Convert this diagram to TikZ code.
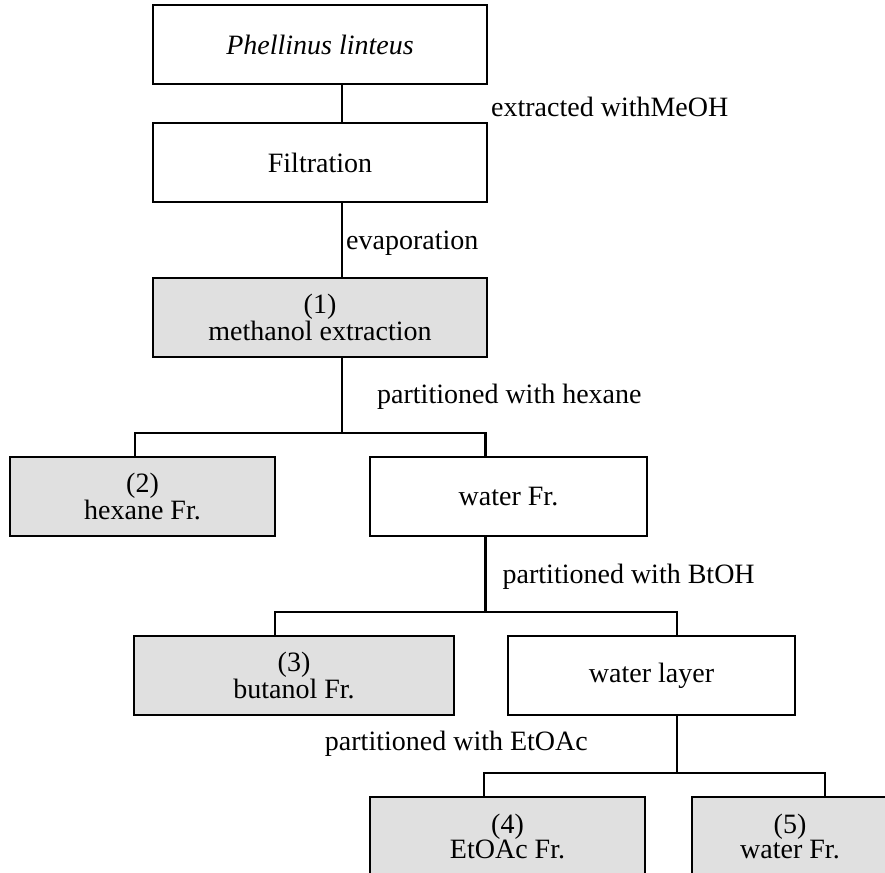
\documentclass[tikz,border=0pt]{standalone}
\usepackage{fontspec}
\setmainfont{Liberation Serif}
\usetikzlibrary{positioning}
\tikzset{
    %Define style for boxes
    stage/.style={
           rectangle,
           draw=black, line width=1.3pt,
           minimum width=167pt,
           minimum height=39.5pt,
           inner sep=0pt,
           outer sep=0pt,
           font=\fontsize{14pt}{12.5pt}\selectfont,
           align=center},
    fraction/.style={
           stage,
           fill=black!12},
    % Define style for the labels beside the lines
    cond/.style={
           inner sep=0pt,
           font=\fontsize{14pt}{12.5pt}\selectfont},
    % Define line style
    link/.style={
           line width=1.2pt}
}

\begin{document}
\begin{tikzpicture}
\useasboundingbox (0,0) rectangle (442.5pt,-436.5pt);
\clip (0,0) rectangle (442.5pt,-436.5pt);
 %nodes
\node[stage] (phel) at (160pt,-22.25pt) {\itshape Phellinus linteus};
\node[stage, below=19.5pt of phel] (filt) {Filtration};
\node[fraction, below=38pt of filt] (meth) {(1)\\methanol extraction};
\node[fraction, below=50pt of meth, xshift=-88.75pt, minimum width=132.5pt] (hex) {(2)\\hexane Fr.};
\node[stage, below=50pt of meth, xshift=94.25pt, minimum width=138.5pt] (wfr) {water Fr.};
\node[fraction, below=50pt of wfr, xshift=-107.25pt, minimum width=160pt] (but) {(3)\\butanol Fr.};
\node[stage, below=50pt of wfr, xshift=71.5pt, minimum width=143.5pt] (wlay) {water layer};
\node[fraction, below=41pt of wlay, xshift=-72pt, minimum width=137.5pt] (etoac) {(4)\\EtOAc Fr.};
\node[fraction, below=41pt of wlay, xshift=69.25pt, minimum width=98pt] (wfive) {(5)\\water Fr.};
 %lines
\draw[link] ([xshift=11pt]phel.south) -- node[cond, right=74pt, yshift=-1.75pt] {extracted withMeOH} ([xshift=11pt]filt.north);
\draw[link] ([xshift=11pt]filt.south) -- node[cond, right=1.5pt, yshift=-1.5pt] {evaporation} ([xshift=11pt]meth.north);
\draw[link] ([xshift=11pt]meth.south) -- node[cond, right=17pt, yshift=-1pt] {partitioned with hexane} ++(0,-38pt) coordinate (b1);
\draw[link] ([xshift=-3.75pt]hex.north) |- (b1) -| ([xshift=-11.5pt]wfr.north);
\draw[link] ([xshift=-11.5pt]wfr.south) -- node[cond, right=8pt, yshift=-1.25pt] {partitioned with BtOH} ++(0,-38pt) coordinate (b2);
\draw[link] ([xshift=-9.5pt]but.north) |- (b2) -| ([xshift=12.75pt]wlay.north);
\draw[link] ([xshift=12.75pt]wlay.south) -- node[cond, left=44pt] {partitioned with EtOAc} ++(0,-29pt) coordinate (b3);
\draw[link] ([xshift=-11.75pt]etoac.north) |- (b3) -| ([xshift=17.5pt]wfive.north);
\end{tikzpicture}
\end{document}
